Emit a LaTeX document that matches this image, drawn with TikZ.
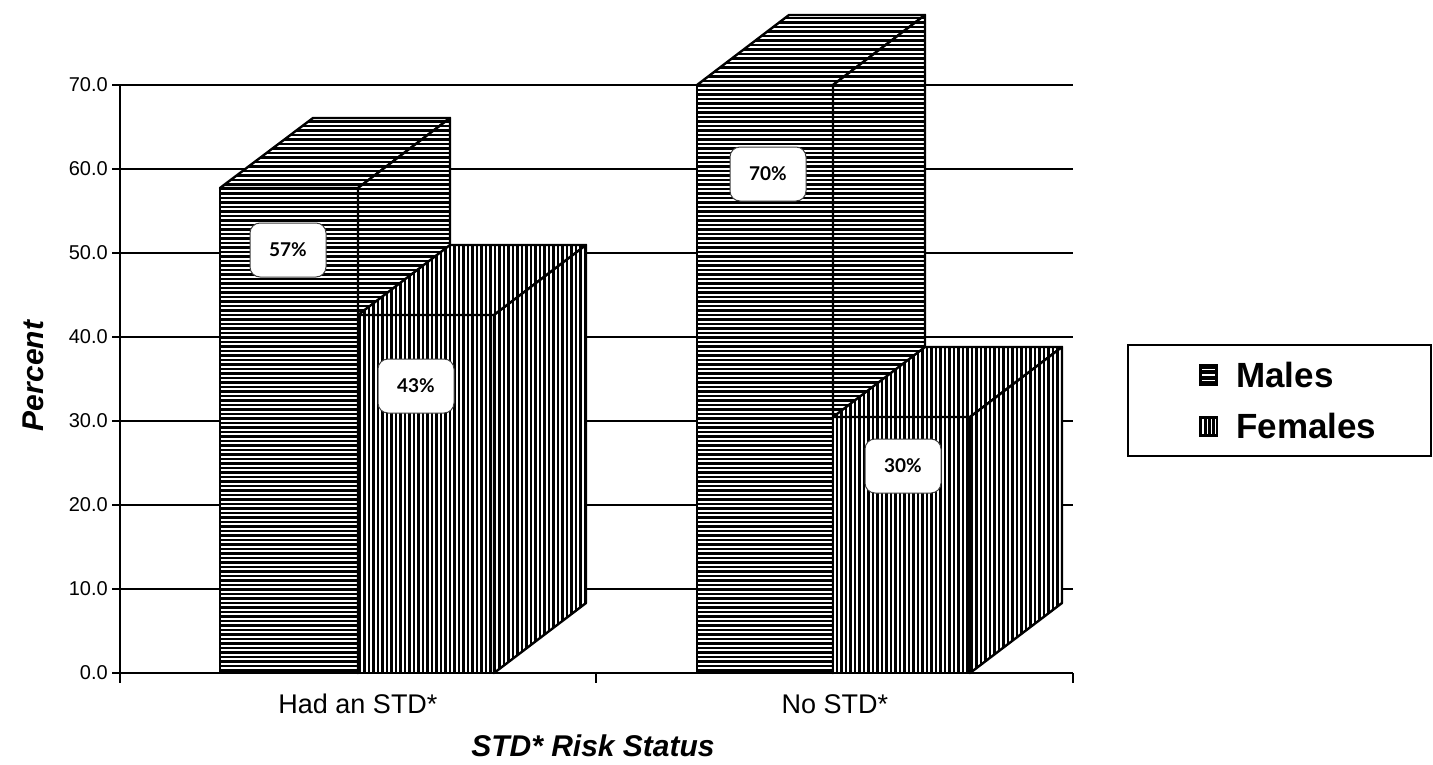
\documentclass[tikz,border=0pt]{standalone}
\usepackage{fontspec}
\setmainfont{Liberation Sans}
\newfontfamily\lblfont{Lato}
\newcommand{\hatchH}[1]{%
  \begin{scope}\clip #1;
    \fill[white] (0,0) rectangle (1433,764);
    \foreach \yy in {0,4.5,...,700} \draw[line width=2.6] (0,\yy) -- (1433,\yy);
  \end{scope}
  \draw[line width=2.4,line join=round] #1;}
\newcommand{\hatchV}[1]{%
  \begin{scope}\clip #1;
    \fill[white] (0,0) rectangle (1433,764);
    \foreach \xx in {0,4.5,...,1433} \draw[line width=2.6] (\xx,0) -- (\xx,764);
  \end{scope}
  \draw[line width=2.4,line join=round] #1;}
\begin{document}
\begin{tikzpicture}[x=1pt,y=-1pt,
  grid/.style={line width=1.4},
  ticklbl/.style={anchor=east,inner sep=0,font=\fontsize{20}{22}\selectfont},
  catlbl/.style={anchor=base,inner sep=0,font=\fontsize{27}{30}\selectfont},
  axtitle/.style={inner sep=0,font=\fontsize{30}{32}\selectfont\bfseries\itshape},
  pct/.style={draw=black!75,line width=1,fill=white,rounded corners=10,minimum width=76,minimum height=54,inner sep=0,font=\lblfont\bfseries\fontsize{19}{21}\selectfont},
  legtxt/.style={anchor=base west,inner sep=0,font=\fontsize{35}{38}\selectfont\bfseries}]
\useasboundingbox (0,0) rectangle (1433,764);
% gridlines and ticks
\foreach \v/\t in {0/0.0,10/10.0,20/20.0,30/30.0,40/40.0,50/50.0,60/60.0,70/70.0}{
  \draw[grid] (112,{673-8.4*\v}) -- (1073,{673-8.4*\v});
  \node[ticklbl] (t\v) at (108,{673-8.4*\v}) {\t};
}
\draw[grid] (120,85) -- (120,683);
\draw[grid] (596,673) -- (596,683);
\draw[grid] (1073,673) -- (1073,683);
% bar 1 males
\hatchH{(220,673) -- (358,673) -- (358,188) -- (220,188) -- cycle}
\hatchH{(220,188) -- (358,188) -- (450,118) -- (313,118) -- cycle}
\hatchH{(358,188) -- (450,118) -- (450,603) -- (358,673) -- cycle}
% bar 1 females
\hatchV{(358,673) -- (494,673) -- (494,315) -- (358,315) -- cycle}
\hatchV{(358,315) -- (494,315) -- (586,245) -- (450,245) -- cycle}
\hatchV{(494,315) -- (586,245) -- (586,603) -- (494,673) -- cycle}
% bar 2 males
\hatchH{(697,673) -- (833,673) -- (833,85) -- (697,85) -- cycle}
\hatchH{(697,85) -- (833,85) -- (925,15) -- (789,15) -- cycle}
\hatchH{(833,85) -- (925,15) -- (925,603) -- (833,673) -- cycle}
% bar 2 females
\hatchV{(833,673) -- (970,673) -- (970,417) -- (833,417) -- cycle}
\hatchV{(833,417) -- (970,417) -- (1062,347) -- (925,347) -- cycle}
\hatchV{(970,417) -- (1062,347) -- (1062,603) -- (970,673) -- cycle}
% axis base line over bars
\draw[grid] (120,673) -- (1073,673);
% value labels
\node[pct] (l57) at (288,250) {57\%};
\node[pct] (l43) at (416,386) {43\%};
\node[pct] (l70) at (768,174) {70\%};
\node[pct] (l30) at (903,466) {30\%};
% axis titles and categories
\node[catlbl] (c1) at (358,713) {Had an STD*};
\node[catlbl] (c2) at (835,713) {No STD*};
\node[axtitle,anchor=base] (xt) at (593,756) {STD* Risk Status};
\node[axtitle,rotate=90] (yt) at (33,376) {Percent};
% legend
\draw[line width=1.6] (1128,345) rectangle (1431,456);
\fill (1199,364) rectangle (1218,386);
\foreach \yy in {369.5,375,380.5} \draw[white,line width=1.6] (1202,\yy) -- (1215,\yy);
\fill (1199,416) rectangle (1218,437);
\foreach \xx in {1203,1207.3,1211.6,1215.3} \draw[white,line width=1.5] (\xx,419) -- (\xx,434);
\node[legtxt] (lm) at (1236,387) {Males};
\node[legtxt] (lf) at (1236,438) {Females};
\end{tikzpicture}
\end{document}
